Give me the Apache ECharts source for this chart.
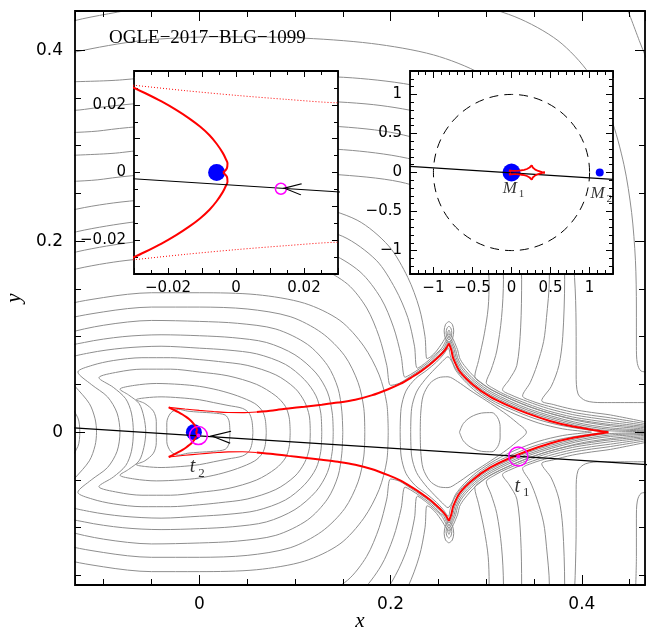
<!DOCTYPE html>
<html>
<head>
<meta charset="utf-8">
<script src="https://cdn.jsdelivr.net/npm/echarts/dist/echarts.min.js"></script>
<style>html,body{margin:0;padding:0;background:#fff}#chart{width:647px;height:628px}</style>
</head>
<body>
<div id="chart"></div>
<script>
// axis ranges
var mainXRange = [-0.13, 0.466];
var mainYRange = [-0.16, 0.441];
var zoomRange = [-0.03, 0.03];
var wideRange = [-1.3, 1.3];

// caustic (source plane)
var causticArcUpper = [[-0.032,0.026],[-0.0268,0.0235],[-0.0219,0.021],[-0.0176,0.0185],[-0.0138,0.016],[-0.0105,0.0135],[-0.0078,0.011],[-0.0057,0.0085],[-0.0039,0.0058],[-0.003,0.004],[-0.0025,0.0027],[-0.0027,0.0012],[-0.0038,0]];
var causticArcLower = [[-0.032,-0.026],[-0.0268,-0.0235],[-0.0219,-0.021],[-0.0176,-0.0185],[-0.0138,-0.016],[-0.0105,-0.0135],[-0.0078,-0.011],[-0.0057,-0.0085],[-0.0039,-0.0058],[-0.003,-0.004],[-0.0025,-0.0027],[-0.0027,-0.0012],[-0.0038,0]];
var causticThinUpper = [[-0.032,0.026],[-0.015,0.0242],[0,0.0228],[0.015,0.0216],[0.03,0.0206],[0.045,0.0205],[0.06,0.0212]];
var causticThinLower = [[-0.032,-0.026],[-0.015,-0.0242],[0,-0.0228],[0.015,-0.0216],[0.03,-0.0206],[0.045,-0.0205],[0.06,-0.0212]];
var causticFoldUpper = [[0.06,0.0212],[0.077,0.0228],[0.093,0.0248],[0.11,0.0267],[0.128,0.0288],[0.145,0.031],[0.163,0.034],[0.18,0.0385],[0.1975,0.045],[0.21,0.0505],[0.222,0.0575],[0.232,0.064],[0.2405,0.0703],[0.248,0.0768],[0.2545,0.0832],[0.258,0.0875],[0.261,0.093]];
var causticFoldLower = [[0.06,-0.0212],[0.077,-0.0228],[0.093,-0.0248],[0.11,-0.0267],[0.128,-0.0288],[0.145,-0.031],[0.163,-0.034],[0.18,-0.0385],[0.1975,-0.045],[0.21,-0.0505],[0.222,-0.0575],[0.232,-0.064],[0.2405,-0.0703],[0.248,-0.0768],[0.2545,-0.0832],[0.258,-0.0875],[0.261,-0.093]];
var causticRightUpper = [[0.261,0.093],[0.2635,0.086],[0.2655,0.0774],[0.2725,0.0634],[0.2864,0.0495],[0.3039,0.0372],[0.3213,0.0286],[0.3423,0.0199],[0.3666,0.0118],[0.391,0.0059],[0.4119,0.0024],[0.4277,0]];
var causticRightLower = [[0.261,-0.093],[0.2635,-0.086],[0.2655,-0.0774],[0.2725,-0.0634],[0.2864,-0.0495],[0.3039,-0.0372],[0.3213,-0.0286],[0.3423,-0.0199],[0.3666,-0.0118],[0.391,-0.0059],[0.4119,-0.0024],[0.4277,0]];

// source trajectory, lenses, source positions
var trajectory = [[-1.3,0.0797],[1.3,-0.0873]];
var lensZoom = [[-0.0057,0]];
var lensPrimary = [[0,0]];
var lensSecondary = [[1.13,0]];
var einsteinRing = [[0,0,1]];
var sourceT1 = [[0.3335,-0.0255]];
var sourceT2 = [[-0.001,-0.0035]];
var sourceZoom = [[0.0132,-0.0048]];
var arrowMain = [[0.0128,-0.0046]];
var arrowZoom = [[0.0142,-0.0048]];
var labelT1 = [[0.3373,-0.0567]];
var labelT2 = [[-0.0021,-0.0366]];
var labelM1 = [[0.026,-0.2]];
var labelM2 = [[1.15,-0.273]];

// magnification contours
var contourL0 = [[0.032,0],[0.031,0.012],[0.027,0.018],[0.015,0.02],[0,0.021],[-0.012,0.022],[-0.022,0.024],[-0.03,0.02],[-0.034,0.01],[-0.034,0],[-0.034,-0.01],[-0.03,-0.02],[-0.022,-0.024],[-0.012,-0.022],[0,-0.021],[0.015,-0.02],[0.027,-0.018],[0.031,-0.012],[0.032,0]];
var contourL1 = [[0.056,0],[0.055,0.012],[0.052,0.02],[0.045,0.025],[0.03,0.028],[0.015,0.031],[0,0.034],[-0.02,0.036],[-0.04,0.037],[-0.056,0.036],[-0.066,0.034],[-0.057,0.03],[-0.048,0.022],[-0.045,0.011],[-0.045,0],[-0.045,-0.011],[-0.048,-0.022],[-0.057,-0.03],[-0.066,-0.034],[-0.056,-0.036],[-0.04,-0.037],[-0.02,-0.036],[0,-0.034],[0.015,-0.031],[0.03,-0.028],[0.045,-0.025],[0.052,-0.02],[0.055,-0.012],[0.056,0]];
var contourL2 = [[0.07,0],[0.069,0.013],[0.066,0.022],[0.058,0.03],[0.04,0.038],[0.02,0.044],[0,0.048],[-0.02,0.05],[-0.045,0.051],[-0.068,0.049],[-0.083,0.045],[-0.074,0.039],[-0.063,0.03],[-0.058,0.016],[-0.056,0],[-0.058,-0.016],[-0.063,-0.03],[-0.074,-0.039],[-0.083,-0.045],[-0.068,-0.049],[-0.045,-0.051],[-0.02,-0.05],[0,-0.048],[0.02,-0.044],[0.04,-0.038],[0.058,-0.03],[0.066,-0.022],[0.069,-0.013],[0.07,0]];
var contourL3 = [[0.095,0],[0.094,0.015],[0.09,0.027],[0.08,0.038],[0.06,0.05],[0.03,0.059],[0,0.063],[-0.03,0.066],[-0.06,0.066],[-0.085,0.063],[-0.105,0.057],[-0.09,0.047],[-0.077,0.035],[-0.071,0.02],[-0.069,0],[-0.071,-0.02],[-0.077,-0.035],[-0.09,-0.047],[-0.105,-0.057],[-0.085,-0.063],[-0.06,-0.066],[-0.03,-0.066],[0,-0.063],[0.03,-0.059],[0.06,-0.05],[0.08,-0.038],[0.09,-0.027],[0.094,-0.015],[0.095,0]];
var contourL4 = [[0.116,0],[0.115,0.017],[0.11,0.032],[0.1,0.046],[0.08,0.06],[0.05,0.07],[0.02,0.074],[0,0.076],[-0.03,0.078],[-0.06,0.078],[-0.09,0.075],[-0.112,0.07],[-0.127,0.063],[-0.113,0.05],[-0.096,0.037],[-0.086,0.02],[-0.083,0],[-0.086,-0.02],[-0.096,-0.037],[-0.113,-0.05],[-0.127,-0.063],[-0.112,-0.07],[-0.09,-0.075],[-0.06,-0.078],[-0.03,-0.078],[0,-0.076],[0.02,-0.074],[0.05,-0.07],[0.08,-0.06],[0.1,-0.046],[0.11,-0.032],[0.115,-0.017],[0.116,0]];
var contourL5 = [[0.128,0],[0.127,0.02],[0.122,0.038],[0.11,0.055],[0.09,0.071],[0.06,0.082],[0.03,0.086],[0,0.088],[-0.04,0.09],[-0.08,0.088],[-0.115,0.083],[-0.14,0.076],[-0.145,0.065],[-0.13,0.048],[-0.115,0.03],[-0.109,0.014],[-0.1075,0],[-0.109,-0.014],[-0.115,-0.03],[-0.13,-0.048],[-0.145,-0.065],[-0.14,-0.076],[-0.115,-0.083],[-0.08,-0.088],[-0.04,-0.09],[0,-0.088],[0.03,-0.086],[0.06,-0.082],[0.09,-0.071],[0.11,-0.055],[0.122,-0.038],[0.127,-0.02],[0.128,0]];
var contourL6 = [[0.14,0],[0.139,0.02],[0.134,0.042],[0.122,0.062],[0.1,0.081],[0.07,0.094],[0.035,0.099],[0,0.101],[-0.04,0.102],[-0.08,0.1],[-0.12,0.094],[-0.15,0.085],[-0.16,0.06],[-0.14,0.035],[-0.127,0.015],[-0.125,0],[-0.127,-0.015],[-0.14,-0.035],[-0.16,-0.06],[-0.15,-0.085],[-0.12,-0.094],[-0.08,-0.1],[-0.04,-0.102],[0,-0.101],[0.035,-0.099],[0.07,-0.094],[0.1,-0.081],[0.122,-0.062],[0.134,-0.042],[0.139,-0.02],[0.14,0]];
var contourL7 = [[0.15,0],[0.149,0.022],[0.145,0.046],[0.134,0.07],[0.113,0.092],[0.08,0.108],[0.04,0.114],[0,0.116],[-0.05,0.117],[-0.1,0.112],[-0.14,0.103],[-0.17,0.09],[-0.175,0.04],[-0.15,0.01],[-0.145,0],[-0.15,-0.01],[-0.175,-0.04],[-0.17,-0.09],[-0.14,-0.103],[-0.1,-0.112],[-0.05,-0.117],[0,-0.116],[0.04,-0.114],[0.08,-0.108],[0.113,-0.092],[0.134,-0.07],[0.145,-0.046],[0.149,-0.022],[0.15,0]];
var contourL8 = [[0.173,0],[0.172,0.025],[0.166,0.052],[0.152,0.08],[0.128,0.104],[0.095,0.121],[0.05,0.129],[0,0.131],[-0.05,0.131],[-0.1,0.126],[-0.15,0.115],[-0.19,0.09],[-0.19,0.03],[-0.165,0],[-0.19,-0.03],[-0.19,-0.09],[-0.15,-0.115],[-0.1,-0.126],[-0.05,-0.131],[0,-0.131],[0.05,-0.129],[0.095,-0.121],[0.128,-0.104],[0.152,-0.08],[0.166,-0.052],[0.172,-0.025],[0.173,0]];
var contourL9 = [[0.1975,0],[0.196,0.03],[0.188,0.06],[0.172,0.09],[0.147,0.117],[0.11,0.135],[0.06,0.144],[0,0.146],[-0.05,0.146],[-0.1,0.141],[-0.15,0.13],[-0.2,0.1],[-0.2,0.03],[-0.18,0],[-0.2,-0.03],[-0.2,-0.1],[-0.15,-0.13],[-0.1,-0.141],[-0.05,-0.146],[0,-0.146],[0.06,-0.144],[0.11,-0.135],[0.147,-0.117],[0.172,-0.09],[0.188,-0.06],[0.196,-0.03],[0.1975,0]];
var contourL11 = [[0.475,0.0006],[0.4285,0.0015],[0.3918,0.0074],[0.343,0.0214],[0.3047,0.0387],[0.2872,0.051],[0.2735,0.065],[0.267,0.078],[0.265,0.0865],[0.261,0.0953],[0.2565,0.087],[0.2535,0.0838],[0.2471,0.0777],[0.2396,0.0712],[0.2311,0.0652],[0.2211,0.0587],[0.2091,0.0512],[0.2,0.049],[0.196,0.07],[0.188,0.1],[0.175,0.13],[0.155,0.155],[0.125,0.172],[0.08,0.18],[0.03,0.183],[-0.03,0.183],[-0.09,0.178],[-0.15,0.165],[-0.2,0.14],[-0.2,-0.14],[-0.15,-0.165],[-0.09,-0.178],[-0.03,-0.183],[0.03,-0.183],[0.08,-0.18],[0.125,-0.172],[0.155,-0.155],[0.175,-0.13],[0.188,-0.1],[0.196,-0.07],[0.2,-0.049],[0.2091,-0.0512],[0.2211,-0.0587],[0.2311,-0.0652],[0.2396,-0.0712],[0.2471,-0.0777],[0.2535,-0.0838],[0.2565,-0.087],[0.261,-0.0953],[0.265,-0.0865],[0.267,-0.078],[0.2735,-0.065],[0.2872,-0.051],[0.3047,-0.0387],[0.343,-0.0214],[0.3918,-0.0074],[0.4285,-0.0015],[0.475,-0.0006]];
var contourL12 = [[0.475,0.0012],[0.4292,0.003],[0.3925,0.0089],[0.3438,0.0229],[0.3054,0.0402],[0.2879,0.0525],[0.2745,0.0664],[0.2685,0.078],[0.2665,0.0865],[0.261,0.0975],[0.255,0.087],[0.2525,0.0854],[0.2462,0.0789],[0.2387,0.0724],[0.2302,0.0664],[0.221,0.0605],[0.215,0.0575],[0.211,0.08],[0.203,0.11],[0.19,0.14],[0.168,0.168],[0.135,0.188],[0.09,0.198],[0.03,0.202],[-0.03,0.202],[-0.09,0.196],[-0.15,0.183],[-0.2,0.16],[-0.2,-0.16],[-0.15,-0.183],[-0.09,-0.196],[-0.03,-0.202],[0.03,-0.202],[0.09,-0.198],[0.135,-0.188],[0.168,-0.168],[0.19,-0.14],[0.203,-0.11],[0.211,-0.08],[0.215,-0.0575],[0.221,-0.0605],[0.2302,-0.0664],[0.2387,-0.0724],[0.2462,-0.0789],[0.2525,-0.0854],[0.255,-0.087],[0.261,-0.0975],[0.2665,-0.0865],[0.2685,-0.078],[0.2745,-0.0664],[0.2879,-0.0525],[0.3054,-0.0402],[0.3438,-0.0229],[0.3925,-0.0089],[0.4292,-0.003],[0.475,-0.0012]];
var contourL13 = [[0.475,0.0018],[0.43,0.0045],[0.3932,0.0104],[0.3445,0.0244],[0.3061,0.0417],[0.2886,0.054],[0.2755,0.0679],[0.27,0.078],[0.268,0.0865],[0.261,0.0998],[0.2535,0.088],[0.2453,0.0801],[0.2378,0.0736],[0.228,0.067],[0.225,0.09],[0.218,0.12],[0.205,0.15],[0.185,0.18],[0.15,0.205],[0.1,0.218],[0.04,0.223],[-0.03,0.223],[-0.09,0.217],[-0.15,0.204],[-0.2,0.18],[-0.2,-0.18],[-0.15,-0.204],[-0.09,-0.217],[-0.03,-0.223],[0.04,-0.223],[0.1,-0.218],[0.15,-0.205],[0.185,-0.18],[0.205,-0.15],[0.218,-0.12],[0.225,-0.09],[0.228,-0.067],[0.2378,-0.0736],[0.2453,-0.0801],[0.2535,-0.088],[0.261,-0.0998],[0.268,-0.0865],[0.27,-0.078],[0.2755,-0.0679],[0.2886,-0.054],[0.3061,-0.0417],[0.3445,-0.0244],[0.3932,-0.0104],[0.43,-0.0045],[0.475,-0.0018]];
var contourL14 = [[0.475,0.0026],[0.431,0.0065],[0.3942,0.0124],[0.3455,0.0264],[0.3071,0.0437],[0.2896,0.056],[0.277,0.0699],[0.272,0.078],[0.27,0.0865],[0.261,0.1028],[0.253,0.092],[0.248,0.085],[0.242,0.079],[0.238,0.077],[0.236,0.1],[0.23,0.13],[0.218,0.162],[0.198,0.195],[0.165,0.222],[0.115,0.238],[0.05,0.245],[-0.02,0.245],[-0.09,0.24],[-0.15,0.228],[-0.2,0.205],[-0.2,-0.205],[-0.15,-0.228],[-0.09,-0.24],[-0.02,-0.245],[0.05,-0.245],[0.115,-0.238],[0.165,-0.222],[0.198,-0.195],[0.218,-0.162],[0.23,-0.13],[0.236,-0.1],[0.238,-0.077],[0.242,-0.079],[0.248,-0.085],[0.253,-0.092],[0.261,-0.1028],[0.27,-0.0865],[0.272,-0.078],[0.277,-0.0699],[0.2896,-0.056],[0.3071,-0.0437],[0.3455,-0.0264],[0.3942,-0.0124],[0.431,-0.0065],[0.475,-0.0026]];
var contourR1 = [[0.475,0.004],[0.43,0.008],[0.41,0.0107],[0.39,0.014],[0.365,0.0202],[0.343,0.0277],[0.322,0.0363],[0.305,0.0445],[0.294,0.052],[0.288,0.058],[0.292,0.075],[0.298,0.103],[0.302,0.13],[0.303,0.158],[0.298,0.19],[0.283,0.22],[0.256,0.245],[0.21,0.262],[0.14,0.27],[0.06,0.273],[-0.02,0.272],[-0.1,0.265],[-0.2,0.245],[-0.2,-0.245],[-0.1,-0.265],[-0.02,-0.272],[0.06,-0.273],[0.14,-0.27],[0.21,-0.262],[0.256,-0.245],[0.283,-0.22],[0.298,-0.19],[0.303,-0.158],[0.302,-0.13],[0.298,-0.103],[0.292,-0.075],[0.288,-0.058],[0.294,-0.052],[0.305,-0.0445],[0.322,-0.0363],[0.343,-0.0277],[0.365,-0.0202],[0.39,-0.014],[0.41,-0.0107],[0.43,-0.008],[0.475,-0.004]];
var contourR2 = [[0.475,0.005],[0.43,0.01],[0.41,0.0127],[0.39,0.016],[0.365,0.0222],[0.343,0.0297],[0.322,0.0383],[0.308,0.0455],[0.3,0.052],[0.305,0.065],[0.311,0.085],[0.316,0.12],[0.318,0.16],[0.314,0.2],[0.3,0.235],[0.272,0.265],[0.225,0.285],[0.16,0.295],[0.08,0.298],[0,0.298],[-0.08,0.293],[-0.2,0.272],[-0.2,-0.272],[-0.08,-0.293],[0,-0.298],[0.08,-0.298],[0.16,-0.295],[0.225,-0.285],[0.272,-0.265],[0.3,-0.235],[0.314,-0.2],[0.318,-0.16],[0.316,-0.12],[0.311,-0.085],[0.305,-0.065],[0.3,-0.052],[0.308,-0.0455],[0.322,-0.0383],[0.343,-0.0297],[0.365,-0.0222],[0.39,-0.016],[0.41,-0.0127],[0.43,-0.01],[0.475,-0.005]];
var contourR3 = [[0.475,0.006],[0.43,0.0125],[0.41,0.0152],[0.39,0.0185],[0.365,0.0247],[0.343,0.0322],[0.326,0.039],[0.317,0.0445],[0.324,0.055],[0.332,0.07],[0.336,0.11],[0.337,0.16],[0.333,0.2],[0.32,0.238],[0.295,0.272],[0.255,0.298],[0.2,0.314],[0.13,0.321],[0.05,0.323],[-0.03,0.322],[-0.1,0.316],[-0.2,0.298],[-0.2,-0.298],[-0.1,-0.316],[-0.03,-0.322],[0.05,-0.323],[0.13,-0.321],[0.2,-0.314],[0.255,-0.298],[0.295,-0.272],[0.32,-0.238],[0.333,-0.2],[0.337,-0.16],[0.336,-0.11],[0.332,-0.07],[0.324,-0.055],[0.317,-0.0445],[0.326,-0.039],[0.343,-0.0322],[0.365,-0.0247],[0.39,-0.0185],[0.41,-0.0152],[0.43,-0.0125],[0.475,-0.006]];
var contourR4 = [[0.475,0.0075],[0.43,0.015],[0.41,0.0177],[0.39,0.021],[0.365,0.0272],[0.348,0.0325],[0.338,0.038],[0.346,0.052],[0.353,0.07],[0.36,0.095],[0.363,0.12],[0.366,0.16],[0.364,0.2],[0.354,0.24],[0.333,0.277],[0.3,0.308],[0.25,0.33],[0.19,0.342],[0.12,0.347],[0.04,0.348],[-0.04,0.346],[-0.12,0.338],[-0.2,0.323],[-0.2,-0.323],[-0.12,-0.338],[-0.04,-0.346],[0.04,-0.348],[0.12,-0.347],[0.19,-0.342],[0.25,-0.33],[0.3,-0.308],[0.333,-0.277],[0.354,-0.24],[0.364,-0.2],[0.366,-0.16],[0.363,-0.12],[0.36,-0.095],[0.353,-0.07],[0.346,-0.052],[0.338,-0.038],[0.348,-0.0325],[0.365,-0.0272],[0.39,-0.021],[0.41,-0.0177],[0.43,-0.015],[0.475,-0.0075]];
var contourR5 = [[0.475,0.009],[0.43,0.018],[0.41,0.0207],[0.39,0.024],[0.37,0.029],[0.358,0.033],[0.368,0.048],[0.376,0.07],[0.38,0.1],[0.382,0.16],[0.38,0.2],[0.372,0.24],[0.356,0.28],[0.328,0.316],[0.285,0.344],[0.23,0.362],[0.16,0.371],[0.08,0.373],[0,0.373],[-0.08,0.369],[-0.2,0.355],[-0.2,-0.355],[-0.08,-0.369],[0,-0.373],[0.08,-0.373],[0.16,-0.371],[0.23,-0.362],[0.285,-0.344],[0.328,-0.316],[0.356,-0.28],[0.372,-0.24],[0.38,-0.2],[0.382,-0.16],[0.38,-0.1],[0.376,-0.07],[0.368,-0.048],[0.358,-0.033],[0.37,-0.029],[0.39,-0.024],[0.41,-0.0207],[0.43,-0.018],[0.475,-0.009]];
var contourV1 = [[0.392,-0.17],[0.393,-0.15],[0.394,-0.1],[0.394,-0.06],[0.396,-0.04],[0.404,-0.033],[0.42,-0.031],[0.475,-0.031],[0.475,0.031],[0.42,0.031],[0.404,0.033],[0.396,0.04],[0.394,0.06],[0.394,0.1],[0.393,0.15],[0.389,0.2],[0.38,0.25],[0.363,0.3],[0.335,0.345],[0.295,0.375],[0.245,0.395],[0.18,0.407],[0.1,0.413],[0.02,0.414],[-0.06,0.41],[-0.13,0.398],[-0.2,0.38]];
var contourV2 = [[0.456,-0.17],[0.457,-0.13],[0.457,-0.09],[0.458,-0.072],[0.462,-0.064],[0.475,-0.062],[0.475,0.062],[0.462,0.064],[0.458,0.072],[0.457,0.09],[0.457,0.13],[0.456,0.18],[0.452,0.23],[0.444,0.28],[0.43,0.33],[0.408,0.375],[0.375,0.41],[0.33,0.435],[0.27,0.452],[0.2,0.46],[0.1,0.465],[0,0.462],[-0.06,0.445],[-0.13,0.431],[-0.2,0.41]];
var contourV3 = [[0.49,0.3],[0.475,0.37],[0.46,0.41],[0.445,0.45]];
var contourD0 = [[0.272,0],[0.276,0.009],[0.284,0.016],[0.295,0.02],[0.306,0.0205],[0.312,0.015],[0.3145,0.006],[0.3145,-0.006],[0.312,-0.015],[0.306,-0.0205],[0.295,-0.02],[0.284,-0.016],[0.276,-0.009],[0.272,0]];
var contourD1 = [[0.231,0],[0.2315,0.02],[0.234,0.038],[0.241,0.051],[0.25,0.057],[0.26,0.058],[0.27,0.053],[0.283,0.044],[0.3,0.033],[0.318,0.021],[0.332,0.01],[0.342,0],[0.332,-0.01],[0.318,-0.021],[0.3,-0.033],[0.283,-0.044],[0.27,-0.053],[0.26,-0.058],[0.25,-0.057],[0.241,-0.051],[0.234,-0.038],[0.2315,-0.02],[0.231,0]];
var contourD2 = [[0.221,0],[0.222,0.025],[0.227,0.042],[0.236,0.055],[0.246,0.066],[0.254,0.074],[0.26,0.079],[0.264,0.074],[0.268,0.065],[0.277,0.054],[0.29,0.042],[0.31,0.029],[0.33,0.019],[0.355,0.0095],[0.38,0.0035],[0.4,0.001],[0.41,0],[0.4,-0.001],[0.38,-0.0035],[0.355,-0.0095],[0.33,-0.019],[0.31,-0.029],[0.29,-0.042],[0.277,-0.054],[0.268,-0.065],[0.264,-0.074],[0.26,-0.079],[0.254,-0.074],[0.246,-0.066],[0.236,-0.055],[0.227,-0.042],[0.222,-0.025],[0.221,0]];
var contourD3 = [[0.21,0],[0.211,0.025],[0.216,0.043],[0.226,0.056],[0.238,0.065],[0.248,0.0735],[0.255,0.081],[0.2605,0.088],[0.2625,0.08],[0.267,0.0685],[0.275,0.058],[0.288,0.046],[0.305,0.034],[0.325,0.0245],[0.35,0.0145],[0.375,0.0078],[0.4,0.0033],[0.42,0.0006],[0.424,0],[0.42,-0.0006],[0.4,-0.0033],[0.375,-0.0078],[0.35,-0.0145],[0.325,-0.0245],[0.305,-0.034],[0.288,-0.046],[0.275,-0.058],[0.267,-0.0685],[0.2625,-0.08],[0.2605,-0.088],[0.255,-0.081],[0.248,-0.0735],[0.238,-0.065],[0.226,-0.056],[0.216,-0.043],[0.211,-0.025],[0.21,0]];
var contourOvalTop1 = [[0.261,0.116],[0.2645,0.113],[0.266,0.106],[0.265,0.099],[0.263,0.095],[0.261,0.094],[0.259,0.095],[0.257,0.099],[0.256,0.106],[0.2575,0.113],[0.261,0.116]];
var contourOvalTop2 = [[0.261,0.111],[0.263,0.109],[0.264,0.104],[0.263,0.099],[0.261,0.097],[0.259,0.099],[0.258,0.104],[0.259,0.109],[0.261,0.111]];
var contourOvalTop3 = [[0.261,0.107],[0.262,0.105],[0.2623,0.102],[0.261,0.0995],[0.2597,0.102],[0.26,0.105],[0.261,0.107]];
var contourOvalBot1 = [[0.261,-0.116],[0.2645,-0.113],[0.266,-0.106],[0.265,-0.099],[0.263,-0.095],[0.261,-0.094],[0.259,-0.095],[0.257,-0.099],[0.256,-0.106],[0.2575,-0.113],[0.261,-0.116]];
var contourOvalBot2 = [[0.261,-0.111],[0.263,-0.109],[0.264,-0.104],[0.263,-0.099],[0.261,-0.097],[0.259,-0.099],[0.258,-0.104],[0.259,-0.109],[0.261,-0.111]];
var contourOvalBot3 = [[0.261,-0.107],[0.262,-0.105],[0.2623,-0.102],[0.261,-0.0995],[0.2597,-0.102],[0.26,-0.105],[0.261,-0.107]];

var contours = [contourL0, contourL1, contourL2, contourL3, contourL4, contourL5, contourL6, contourL7, contourL8, contourL9,
  contourL11, contourL12, contourL13, contourL14,
  contourR1, contourR2, contourR3, contourR4, contourR5,
  contourV1, contourV2, contourV3,
  contourD0, contourD1, contourD2, contourD3,
  contourOvalTop1, contourOvalTop2, contourOvalTop3, contourOvalBot1, contourOvalBot2, contourOvalBot3];

// ---------- helpers ----------
var MINUS = '\u2212';
function labelFormatter(step, dec) {
  return function (v) {
    var k = Math.round(v / step);
    if (Math.abs(v - k * step) > step * 1e-6) return '';
    var r = k * step;
    if (Math.abs(r) < 1e-12) return '0';
    var s = Math.abs(r).toFixed(dec);
    if (s.indexOf('.') >= 0) s = s.replace(/0+$/, '').replace(/\.$/, '');
    return (r < 0 ? MINUS : '') + s;
  };
}

function tickAxis(gridIndex, position, range, step, len, label) {
  var ax = {
    type: 'value', gridIndex: gridIndex, position: position,
    min: range[0], max: range[1], minInterval: step, maxInterval: step, splitNumber: 5,
    z: gridIndex === 0 ? 6 : 13,
    axisLine: { show: false, onZero: false },
    axisTick: { show: true, inside: true, length: len, lineStyle: { color: '#000', width: 1 } },
    axisLabel: { show: false },
    splitLine: { show: false }
  };
  if (label) {
    ax.axisLabel = { show: true, formatter: label.fmt, fontFamily: 'DejaVu Sans', fontSize: label.size, color: '#000', margin: label.margin };
  }
  return ax;
}

var xAxes = [
  tickAxis(0, 'bottom', mainXRange, 0.05, 6),
  tickAxis(0, 'bottom', mainXRange, 0.2, 10, { fmt: labelFormatter(0.2, 1), size: 17, margin: 11 }),
  tickAxis(0, 'top', mainXRange, 0.05, 6),
  tickAxis(0, 'top', mainXRange, 0.2, 10),
  tickAxis(1, 'bottom', zoomRange, 0.005, 4),
  tickAxis(1, 'bottom', zoomRange, 0.01, 6, { fmt: labelFormatter(0.02, 2), size: 15, margin: 7 }),
  tickAxis(1, 'top', zoomRange, 0.005, 4),
  tickAxis(1, 'top', zoomRange, 0.01, 6),
  tickAxis(2, 'bottom', wideRange, 0.1, 4),
  tickAxis(2, 'bottom', wideRange, 0.5, 7, { fmt: labelFormatter(0.5, 1), size: 15, margin: 7 }),
  tickAxis(2, 'top', wideRange, 0.1, 4),
  tickAxis(2, 'top', wideRange, 0.5, 7)
];
var yAxes = [
  tickAxis(0, 'left', mainYRange, 0.05, 6),
  tickAxis(0, 'left', mainYRange, 0.2, 10, { fmt: labelFormatter(0.2, 1), size: 17, margin: 12 }),
  tickAxis(0, 'right', mainYRange, 0.05, 6),
  tickAxis(0, 'right', mainYRange, 0.2, 10),
  tickAxis(1, 'left', zoomRange, 0.005, 4),
  tickAxis(1, 'left', zoomRange, 0.01, 6, { fmt: labelFormatter(0.02, 2), size: 15, margin: 8 }),
  tickAxis(1, 'right', zoomRange, 0.005, 4),
  tickAxis(1, 'right', zoomRange, 0.01, 6),
  tickAxis(2, 'left', wideRange, 0.1, 4),
  tickAxis(2, 'left', wideRange, 0.5, 7, { fmt: labelFormatter(0.5, 1), size: 15, margin: 8 }),
  tickAxis(2, 'right', wideRange, 0.1, 4),
  tickAxis(2, 'right', wideRange, 0.5, 7)
];
xAxes[1].name = 'x';
xAxes[1].nameLocation = 'middle';
xAxes[1].nameGap = 26;
xAxes[1].nameMoveOverlap = false;
xAxes[1].nameTextStyle = { fontFamily: 'Liberation Serif', fontStyle: 'italic', fontSize: 21, color: '#000' };
yAxes[1].name = 'y';
yAxes[1].nameLocation = 'middle';
yAxes[1].nameGap = 48;
yAxes[1].nameTextStyle = { fontFamily: 'Liberation Serif', fontStyle: 'italic', fontSize: 21, color: '#000' };

// axis index of the first axis of each grid
var AX = { main: 0, zoom: 4, wide: 8 };

function lineSeries(data, ax, color, width, z, extra) {
  var s = {
    type: 'line', xAxisIndex: ax, yAxisIndex: ax, data: data, symbol: 'none', silent: true,
    lineStyle: { color: color, width: width }, z: z
  };
  if (extra) for (var k in extra) s[k] = extra[k];
  return s;
}
function dotSeries(data, ax, size, z, style) {
  style.opacity = 1;
  return {
    type: 'scatter', xAxisIndex: ax, yAxisIndex: ax, data: data, symbol: 'circle',
    symbolSize: size, silent: true, itemStyle: style, z: z
  };
}
var chevron = 'path://M24,0 L0,7 L24,14';
function arrowSeries(data, ax, w, h, z) {
  return {
    type: 'scatter', xAxisIndex: ax, yAxisIndex: ax, data: data, symbol: chevron,
    symbolSize: [w, h], symbolOffset: [w / 2, 0], symbolRotate: -4, silent: true,
    itemStyle: { color: 'none', borderColor: '#000', borderWidth: 1.3, opacity: 1 }, z: z
  };
}
function textSeries(data, ax, text, rich, z) {
  return {
    type: 'scatter', xAxisIndex: ax, yAxisIndex: ax, data: data, symbolSize: 1, silent: true,
    itemStyle: { color: 'rgba(0,0,0,0)' }, z: z, clip: false,
    label: { show: true, position: 'inside', formatter: text, rich: rich }
  };
}

var richT = {
  i: { fontFamily: 'Liberation Serif', fontStyle: 'italic', fontSize: 20, color: '#000' },
  s: { fontFamily: 'Liberation Serif', fontSize: 13, color: '#000', padding: [13, 0, 0, 3] }
};
var richM = {
  i: { fontFamily: 'Liberation Serif', fontStyle: 'italic', fontSize: 17, color: '#000' },
  s: { fontFamily: 'Liberation Serif', fontSize: 11, color: '#000', padding: [11, 0, 0, 2] }
};

var GRAY = '#8e8e8e';
var RED = '#ff0000';
var BLUE = '#0000ff';
var MAGENTA = '#ff00ff';
var series = [];

// main panel
contours.forEach(function (c) {
  series.push(lineSeries(c, AX.main, GRAY, 1, 2, { smooth: 0.3 }));
});
series.push(dotSeries(lensZoom, AX.main, 16, 3, { color: BLUE }));
[causticFoldUpper, causticFoldLower, causticRightUpper, causticRightLower].forEach(function (c) {
  series.push(lineSeries(c, AX.main, RED, 2, 4, { smooth: 0.3 }));
});
series.push(lineSeries(causticArcUpper, AX.main, RED, 2, 4, { smooth: 0.3 }));
series.push(lineSeries(causticArcLower, AX.main, RED, 2, 4, { smooth: 0.3 }));
series.push(lineSeries(causticThinUpper, AX.main, RED, 1.1, 4, { smooth: 0.3 }));
series.push(lineSeries(causticThinLower, AX.main, RED, 1.1, 4, { smooth: 0.3 }));
series.push(lineSeries(trajectory, AX.main, '#000', 1.2, 5));
series.push(dotSeries(sourceT1, AX.main, 19, 6, { color: 'none', borderColor: MAGENTA, borderWidth: 1.5 }));
series.push(dotSeries(sourceT1, AX.main, 4, 6, { color: MAGENTA }));
series.push(dotSeries(sourceT2, AX.main, 18, 6, { color: 'none', borderColor: MAGENTA, borderWidth: 1.5 }));
series.push(dotSeries(sourceT2, AX.main, 4, 6, { color: MAGENTA }));
series.push(arrowSeries(arrowMain, AX.main, 19, 12, 6));
series.push(textSeries(labelT1, AX.main, '{i|t}{s|1}', richT, 7));
series.push(textSeries(labelT2, AX.main, '{i|t}{s|2}', richT, 7));

// zoom inset (left)
series.push(dotSeries(lensZoom, AX.zoom, 17, 12, { color: BLUE }));
series.push(lineSeries(causticArcUpper, AX.zoom, RED, 2, 13, { smooth: 0.3 }));
series.push(lineSeries(causticArcLower, AX.zoom, RED, 2, 13, { smooth: 0.3 }));
series.push(lineSeries(causticThinUpper, AX.zoom, RED, 1, 13, { smooth: 0.3, lineStyle: { color: RED, width: 1, type: [1, 2] } }));
series.push(lineSeries(causticThinLower, AX.zoom, RED, 1, 13, { smooth: 0.3, lineStyle: { color: RED, width: 1, type: [1, 2] } }));
series.push(lineSeries(trajectory, AX.zoom, '#000', 1.2, 14));
series.push(dotSeries(sourceZoom, AX.zoom, 11, 15, { color: 'none', borderColor: MAGENTA, borderWidth: 1.5 }));
series.push(arrowSeries(arrowZoom, AX.zoom, 17, 11, 15));

// wide inset (right)
series.push({
  type: 'custom', xAxisIndex: AX.wide, yAxisIndex: AX.wide, data: einsteinRing, silent: true, z: 12,
  renderItem: function (params, api) {
    var c = api.coord([api.value(0), api.value(1)]);
    var e = api.coord([api.value(0) + api.value(2), api.value(1)]);
    return {
      type: 'circle', shape: { cx: c[0], cy: c[1], r: Math.abs(e[0] - c[0]) },
      style: { fill: 'none', stroke: '#000', lineWidth: 1, lineDash: [9, 6] }
    };
  }
});
series.push(dotSeries(lensPrimary, AX.wide, 18, 12, { color: BLUE }));
series.push(dotSeries(lensSecondary, AX.wide, 8, 12, { color: BLUE }));
series.push(lineSeries(trajectory, AX.wide, '#000', 1.2, 13));
[causticArcUpper, causticArcLower, causticThinUpper, causticThinLower, causticFoldUpper, causticFoldLower, causticRightUpper, causticRightLower].forEach(function (c) {
  series.push(lineSeries(c, AX.wide, RED, 1.8, 14));
});
series.push(textSeries(labelM1, AX.wide, '{i|M}{s|1}', richM, 15));
series.push(textSeries(labelM2, AX.wide, '{i|M}{s|2}', richM, 15));

var option = {
  animation: false,
  backgroundColor: '#fff',
  title: {
    text: 'OGLE' + MINUS + '2017' + MINUS + 'BLG' + MINUS + '1099', left: 104, top: 24,
    textStyle: { fontFamily: 'Liberation Serif', fontWeight: 'normal', fontSize: 19, color: '#000' }
  },
  grid: [
    { left: 75, top: 11, width: 570, height: 574, outerBoundsMode: 'none', containLabel: false, show: true, borderColor: '#000', borderWidth: 1.8, backgroundColor: 'transparent', z: 6 },
    { left: 134, top: 71, width: 204, height: 203, outerBoundsMode: 'none', containLabel: false, show: true, borderColor: '#000', borderWidth: 1.8, backgroundColor: '#fff', z: 10 },
    { left: 410, top: 71, width: 203, height: 203, outerBoundsMode: 'none', containLabel: false, show: true, borderColor: '#000', borderWidth: 1.8, backgroundColor: '#fff', z: 10 }
  ],
  xAxis: xAxes,
  yAxis: yAxes,
  series: series
};
var chart = echarts.init(document.getElementById('chart'), null, { renderer: 'canvas' });
chart.setOption(option);
</script>
</body>
</html>
